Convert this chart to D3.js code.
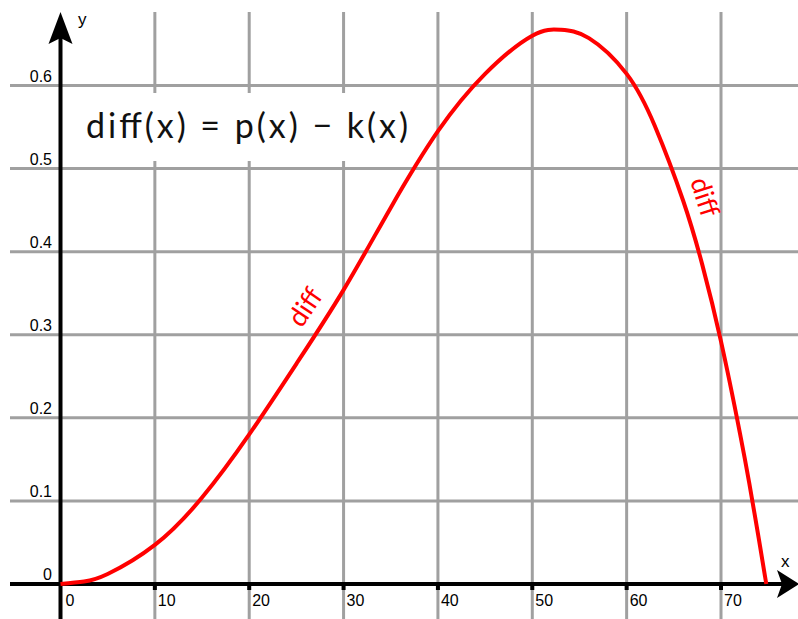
<!DOCTYPE html>
<html>
<head>
<meta charset="utf-8">
<script src="https://cdn.jsdelivr.net/npm/d3@7"></script>
<style>
  html, body { margin: 0; padding: 0; background: #fff; }
  svg { display: block; }
</style>
</head>
<body>
<div id="vis"></div>
<script>
var width = 798;
var height = 619;

// curve
var xValues = [0, 2.5, 5, 10, 15, 20, 25, 30, 35, 40, 45, 50, 53, 56, 60, 63, 66, 68, 70, 72, 73, 74, 74.8];
var diffValues = [0, 0.003, 0.012, 0.047, 0.104, 0.18, 0.265, 0.354, 0.453, 0.545, 0.614, 0.66, 0.667, 0.657, 0.614, 0.551, 0.461, 0.385, 0.292, 0.182, 0.121, 0.055, 0];

var xTicks = [0, 10, 20, 30, 40, 50, 60, 70];
var yTicks = [0, 0.1, 0.2, 0.3, 0.4, 0.5, 0.6];
var yTickLabels = ['0', '0.1', '0.2', '0.3', '0.4', '0.5', '0.6'];

var formula = 'diff(x) = p(x) \u2212 k(x)';
var curveLabel = 'diff';

var x = d3.scaleLinear().domain([0, 70]).range([60.5, 721]);
var y = d3.scaleLinear().domain([0, 0.6]).range([584, 85.5]);

var gridColor = '#a0a0a0';
var red = '#ff0000';

var svg = d3.select('#vis')
  .append('svg')
  .attr('width', width)
  .attr('height', height);

// grid
svg.selectAll('.vgrid')
  .data(xTicks.slice(1))
  .enter().append('line')
  .attr('class', 'vgrid')
  .attr('x1', function (d) { return x(d); })
  .attr('x2', function (d) { return x(d); })
  .attr('y1', 12)
  .attr('y2', height)
  .attr('stroke', gridColor)
  .attr('stroke-width', 3);

svg.selectAll('.hgrid')
  .data(yTicks.slice(1))
  .enter().append('line')
  .attr('class', 'hgrid')
  .attr('x1', 10)
  .attr('x2', width)
  .attr('y1', function (d) { return y(d); })
  .attr('y2', function (d) { return y(d); })
  .attr('stroke', gridColor)
  .attr('stroke-width', 3);

// formula box
svg.append('rect')
  .attr('x', 63)
  .attr('y', 93)
  .attr('width', 357)
  .attr('height', 68)
  .attr('fill', '#fff');

svg.append('text')
  .attr('x', 86)
  .attr('y', 138)
  .attr('font-family', 'Lato, "Noto Sans", sans-serif')
  .attr('font-size', 34)
  .attr('textLength', 322)
  .attr('lengthAdjust', 'spacing')
  .attr('fill', '#111')
  .text(formula);

// axes
svg.append('line')
  .attr('x1', 10).attr('x2', 785)
  .attr('y1', y(0)).attr('y2', y(0))
  .attr('stroke', '#000').attr('stroke-width', 4);

svg.append('line')
  .attr('x1', x(0)).attr('x2', x(0))
  .attr('y1', height).attr('y2', 30)
  .attr('stroke', '#000').attr('stroke-width', 4);

var ax = x(0), ay = y(0);
svg.append('path')
  .attr('d', 'M' + ax + ',12 L' + (ax + 12) + ',44 L' + ax + ',38 L' + (ax - 12) + ',44 Z')
  .attr('fill', '#000');

svg.append('path')
  .attr('d', 'M799,' + ay + ' L777,' + (ay - 14) + ' L782,' + ay + ' L777,' + (ay + 14) + ' Z')
  .attr('fill', '#000');

// tick marks
svg.selectAll('.xtick')
  .data(xTicks.slice(1))
  .enter().append('rect')
  .attr('x', function (d) { return x(d) - 2; })
  .attr('y', ay)
  .attr('width', 4)
  .attr('height', 6)
  .attr('fill', '#000');

// tick labels
svg.selectAll('.xlabel')
  .data(xTicks)
  .enter().append('text')
  .attr('x', function (d) { return x(d) + (d === 0 ? 5 : 3); })
  .attr('y', 606)
  .attr('font-family', '"Liberation Sans", Arial, sans-serif')
  .attr('font-size', 16)
  .attr('fill', '#000')
  .text(function (d) { return d; });

svg.selectAll('.ylabel')
  .data(yTicks)
  .enter().append('text')
  .attr('x', 52)
  .attr('y', function (d) { return y(d) - 4; })
  .attr('text-anchor', 'end')
  .attr('font-family', '"Liberation Sans", Arial, sans-serif')
  .attr('font-size', 16)
  .attr('fill', '#000')
  .text(function (d, i) { return yTickLabels[i]; });

svg.append('text')
  .attr('x', 78).attr('y', 25)
  .attr('font-family', '"Liberation Sans", Arial, sans-serif')
  .attr('font-size', 17)
  .text('y');

svg.append('text')
  .attr('x', 781).attr('y', 567)
  .attr('font-family', '"Liberation Sans", Arial, sans-serif')
  .attr('font-size', 17)
  .text('x');

// curve
var pts = xValues.map(function (d, i) { return [d, diffValues[i]]; });
var line = d3.line()
  .x(function (d) { return x(d[0]); })
  .y(function (d) { return y(d[1]); })
  .curve(d3.curveNatural);

svg.append('path')
  .datum(pts)
  .attr('d', line)
  .attr('fill', 'none')
  .attr('stroke', red)
  .attr('stroke-width', 4)
  .attr('stroke-linejoin', 'round');

// curve labels
var labels = [
  { cx: 305, cy: 307, angle: -56 },
  { cx: 705, cy: 197, angle: 72 }
];

svg.selectAll('.clabel')
  .data(labels)
  .enter().append('text')
  .attr('transform', function (d) { return 'translate(' + d.cx + ',' + d.cy + ') rotate(' + d.angle + ')'; })
  .attr('text-anchor', 'middle')
  .attr('dy', '0.35em')
  .attr('font-family', 'Lato, "Noto Sans", sans-serif')
  .attr('font-size', 27)
  .attr('fill', red)
  .text(curveLabel);
</script>
</body>
</html>
